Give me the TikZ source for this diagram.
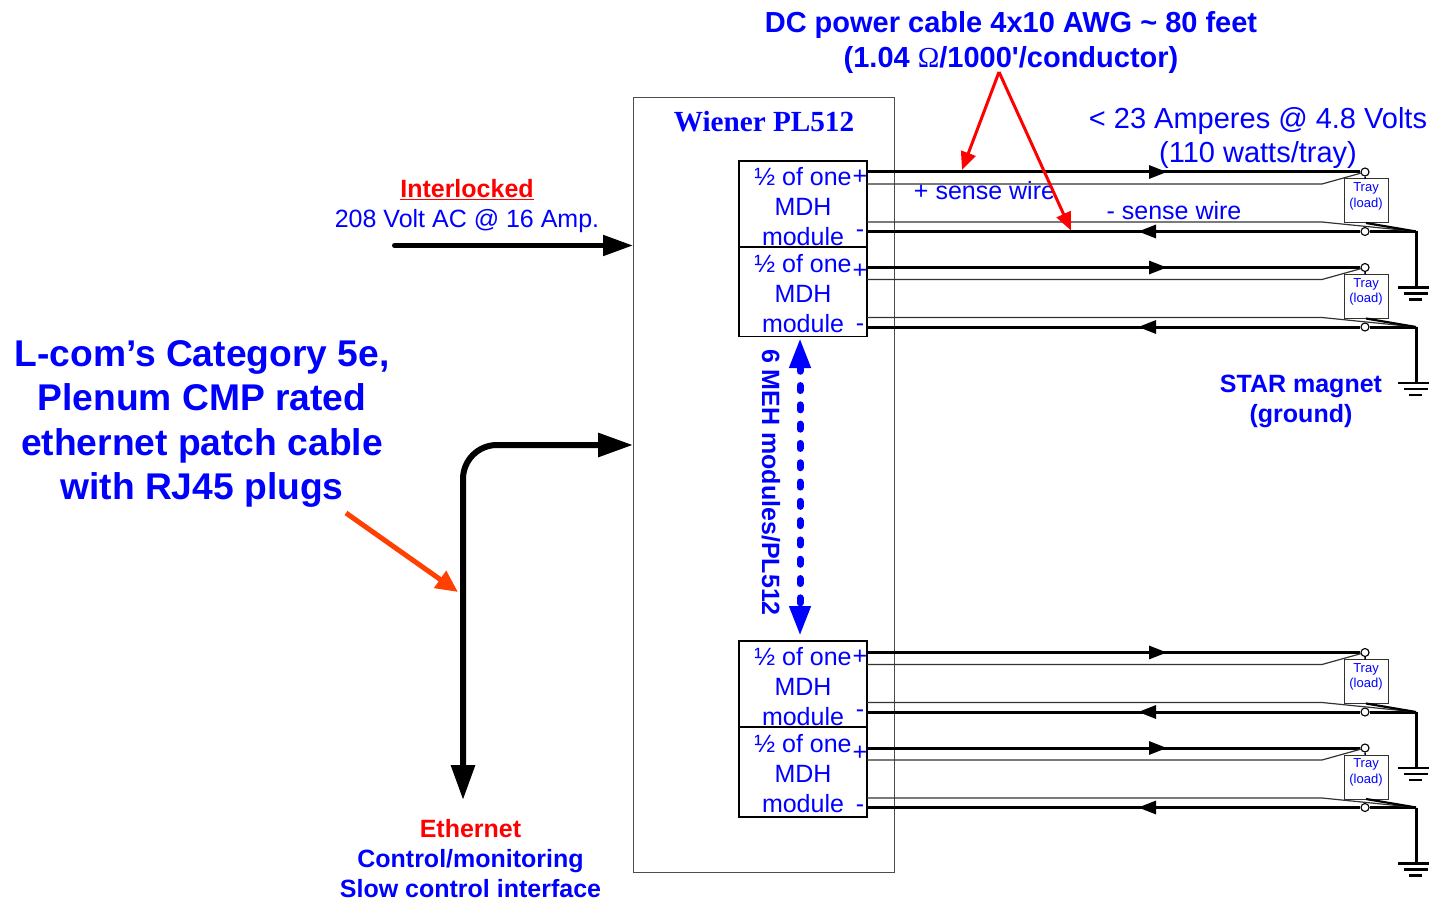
\documentclass[tikz,border=0pt]{standalone}
\usepackage{fontspec}
\setmainfont{Liberation Sans}
\newfontfamily\serifface{Liberation Serif}
\usetikzlibrary{arrows.meta}

\begin{document}
\begin{tikzpicture}[x=1pt,y=-1pt,
  lbl/.style={text=blue,inner sep=0pt,align=center,font=\fontsize{25}{30}\selectfont},
  lblb/.style={text=blue,inner sep=0pt,align=center,font=\fontsize{25}{30}\selectfont\bfseries},
  bigb/.style={text=blue,inner sep=0pt,align=center,font=\fontsize{37.2}{44.6}\selectfont\bfseries},
  modbox/.style={draw,line width=1.1pt,inner sep=0pt,outer sep=0pt,minimum width=128pt},
  traybox/.style={draw=black!80,line width=1pt,inner sep=0pt,outer sep=0pt,minimum width=44pt,minimum height=44pt},
  traytxt/.style={text=blue,inner sep=0pt,align=center,font=\fontsize{13}{15.5}\selectfont},
  term/.style={circle,draw,fill=white,line width=1.1pt,inner sep=0pt,minimum size=8pt},
  pwr/.style={line width=3pt},
  sns/.style={line width=1.2pt,black!80},
  callout/.style={red,line width=3pt,-{Triangle[length=18pt,width=15pt]}},
  wtip/.style={-{Triangle[length=18pt,width=13pt]}},
]
\useasboundingbox (0,0) rectangle (1429,901);

% ---------------- PL512 crate ----------------
\node[draw=black!70,line width=1pt,minimum width=261pt,minimum height=774pt,inner sep=0pt,outer sep=0pt] (wiener) at (763.5,485) {};
\node[text=blue,inner sep=0pt,font=\fontsize{29.2}{36}\selectfont\bfseries\serifface] (title) at (764,122) {Wiener PL512};

% ---------------- modules ----------------
\node[modbox,minimum height=86pt] (mod1) at (803,204) {};
\node[modbox,minimum height=89.5pt] (mod2) at (803,291.75) {};
\node[modbox,minimum height=86pt] (mod3) at (803,684) {};
\node[modbox,minimum height=90pt] (mod4) at (803,772) {};
\foreach \ch/\yy in {1/207, 2/293.5, 3/687, 4/774} {
  \node[lbl] (txt\ch) at (803,\yy) {½ of one\\MDH\\module};
}
\foreach \ch/\pp/\mm in {1/177/234, 2/271/328, 3/657/714, 4/753/809} {
  \node[lbl] (plus\ch) at (860,\pp) {+};
  \node[lbl] (minus\ch) at (860,\mm) {-};
}

% ---------------- cables, trays, grounds ----------------
\foreach \ch/\yy in {1/172, 2/267.5, 3/652.5, 4/748} {
  \node[term] (fwd\ch) at (1365,\yy) {};
  \node[term] (ret\ch) at (1365,\yy+59.5) {};
  \node[traybox] (tray\ch) at (1366,\yy+29) {};
  \node[traytxt] (load\ch) at (1366,\yy+24.5) {Tray\\(load)};
  \coordinate (gnd\ch) at (1416,\yy+59.5);
  \coordinate (bar\ch) at (1416,\yy+115.5);
  \draw[pwr,wtip] (mod\ch.east |- fwd\ch) -- (1167,\yy);
  \draw[pwr] (1160,\yy) -- (fwd\ch);
  \draw[sns] (867,\yy+12) -- (1322,\yy+12) -- (fwd\ch);
  \draw[line width=1.5pt] (fwd\ch) -- (tray\ch);
  \draw[pwr,wtip] (ret\ch) -- (1138,\yy+59.5);
  \draw[pwr] (1145,\yy+59.5) -- (mod\ch.east |- ret\ch);
  \draw[pwr] (ret\ch) -- (gnd\ch);
  \draw[sns] (867,\yy+50) -- (1322,\yy+50) -- (gnd\ch);
  \draw[line width=2.2pt] (tray\ch.south) -- (gnd\ch);
  \draw[pwr] (gnd\ch) -- (bar\ch);
  \draw[line width=2.5pt] (1398,\yy+115.5) -- (1429,\yy+115.5);
  \draw[line width=2.5pt] (1404,\yy+121.5) -- (1428,\yy+121.5);
  \draw[line width=2.5pt] (1409,\yy+127.5) -- (1422,\yy+127.5);
}

% ---------------- labels on the right ----------------
\node[lblb,font=\fontsize{29}{35}\selectfont\bfseries] (dccable) at (1011,42.5) {DC power cable 4x10 AWG \textasciitilde{} 80 feet\\(1.04 {\mdseries\serifface Ω}/1000\textquotesingle/conductor)};
\node[lbl,font=\fontsize{29}{34}\selectfont] (amps) at (1258,138) {< 23 Amperes @ 4.8 Volts\\(110 watts/tray)};
\node[lbl] (psense) at (984.5,191) {+ sense wire};
\node[lbl] (msense) at (1174,211) {- sense wire};
\node[lblb] (star) at (1301,401) {STAR magnet\\(ground)};
\coordinate (fork) at (999,72);
\coordinate (ptip) at (962,170);
\coordinate (mtip) at (1071,230.5);
\draw[callout] (fork) -- (ptip);
\draw[callout] (fork) -- (mtip);

% ---------------- left side ----------------
\node[lbl] (ac) at (467,206) {\textcolor{red}{\bfseries\underline{Interlocked}}\\208 Volt AC @ 16 Amp.};
\coordinate (acin) at (394.5,245.5);
\draw[line width=5pt,line cap=round,-{Triangle[length=30pt,width=20pt]}] (acin) -- (wiener.west |- acin);

\node[bigb] (lcom) at (202,424) {L-com’s Category 5e,\\Plenum CMP rated\\ethernet patch cable\\with RJ45 plugs};
\coordinate (ethin) at (633,445);
\coordinate (ethout) at (463,800);
\draw[line width=6pt,rounded corners=34pt,{Triangle[length=35pt,width=23pt]}-{Triangle[length=35pt,width=23pt]}] (wiener.west |- ethin) -- (463,445) -- (ethout);
\coordinate (lstart) at (346,513);
\coordinate (ltip) at (458,592);
\draw[draw={rgb,255:red,255;green,64;blue,0},line width=5pt,-{Triangle[length=22pt,width=20pt]}] (lstart) -- (ltip);
\node[lblb] (eth) at (470.5,859) {\textcolor{red}{Ethernet}\\Control/monitoring\\Slow control interface};

% ---------------- 6 modules span ----------------
\coordinate (spantop) at (800,338);
\coordinate (spanbot) at (800,636);
\draw[blue,line width=7pt,line cap=round,dash pattern=on 5pt off 14.3pt,{Triangle[length=30pt,width=20pt]}-{Triangle[length=30pt,width=20pt]}] (spantop) -- (spanbot);
\node[lblb,font=\fontsize{25}{30}\selectfont\bfseries,rotate=-90] (span) at (771,482.5) {6 MEH modules/PL512};
\end{tikzpicture}
\end{document}
